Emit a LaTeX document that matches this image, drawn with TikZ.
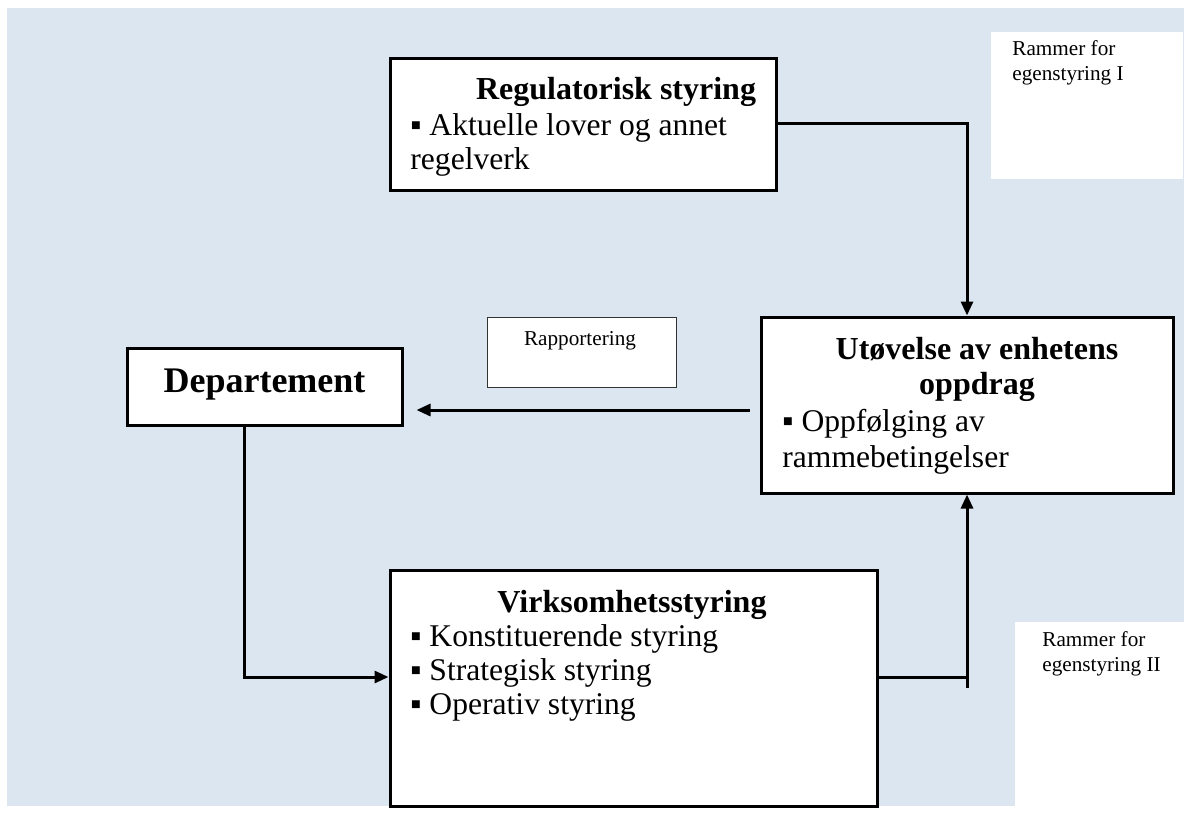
\documentclass[tikz,border=0pt]{standalone}
\usepackage{fontspec}
\setmainfont{Liberation Serif}
\usetikzlibrary{arrows.meta}
\definecolor{bgblue}{HTML}{DCE6F1}
\begin{document}
\begin{tikzpicture}[x=0.5pt,y=-0.5pt,
  box/.style={draw=black, line width=1.5pt, fill=white, rectangle, inner sep=0pt},
  thinbox/.style={draw=black!80, line width=0.5pt, fill=white, rectangle, inner sep=0pt},
  whitebox/.style={fill=white, draw=none, rectangle, inner sep=0pt},
  arr/.style={line width=1.5pt, -{Triangle[length=7pt,width=6pt]}},
  conn/.style={line width=1.5pt},
  ttl/.style={font=\fontsize{16}{19}\selectfont\bfseries, inner sep=0pt, anchor=base},
  body/.style={font=\fontsize{15.8}{19}\selectfont, inner sep=0pt, anchor=base west},
  small/.style={font=\fontsize{10.6}{12}\selectfont, inner sep=0pt, anchor=base west}]
\useasboundingbox (0,0) rectangle (1202,819);
\fill[bgblue] (7,8) rectangle (1184,806);

% white label boxes
\node[whitebox, minimum width=96pt, minimum height=73.5pt] (r1) at (1087,105.5) {};
\node[small] (r1a) at (1012,55) {Rammer for};
\node[small] (r1b) at (1012,80) {egenstyring I};

\node[whitebox, minimum width=84.5pt, minimum height=92pt] (r2) at (1099.5,622) [anchor=north] {};
\node[small] (r2a) at (1042,646) {Rammer for};
\node[small] (r2b) at (1042,671) {egenstyring II};

\node[thinbox, minimum width=94.5pt, minimum height=35pt] (rap) at (581.5,352) {};
\node[small, anchor=base] (rapt) at (580,345) {Rapportering};

% main boxes
\node[box, minimum width=193pt, minimum height=66pt] (reg) at (583,124) {};
\node[ttl] (regt) at (616,99) {Regulatorisk styring};
\node[body] (reg1) at (410,135) {▪ Aktuelle lover og annet};
\node[body] (reg2) at (410,169) {regelverk};

\node[box, minimum width=206pt, minimum height=88pt] (ute) at (967,405) {};
\node[ttl] (utet1) at (977,359) {Utøvelse av enhetens};
\node[ttl] (utet2) at (977,394) {oppdrag};
\node[body] (ute1) at (782,431) {▪ Oppfølging av};
\node[body] (ute2) at (782,467) {rammebetingelser};

\node[box, minimum width=137.5pt, minimum height=38.5pt] (dep) at (264.5,386.5) {};
\node[ttl, font=\fontsize{18}{19}\selectfont\bfseries] (dept) at (264.5,392) {Departement};

\node[box, minimum width=243.5pt, minimum height=118pt] (vir) at (633.5,688) {};
\node[ttl] (virt) at (632,612) {Virksomhetsstyring};
\node[body] (vir1) at (410,646) {▪ Konstituerende styring};
\node[body] (vir2) at (410,680) {▪ Strategisk styring};
\node[body] (vir3) at (410,714) {▪ Operativ styring};

% connectors
\draw[arr] ([yshift=0.5pt]reg.east) -| (ute.north);
\coordinate (rs) at ([xshift=-5pt,yshift=-2.5pt]ute.west);
\draw[arr, shorten >=6.5pt] (rs) -- (rs -| dep.east);
\coordinate (ds) at ([xshift=-10pt]dep.south);
\coordinate (vw) at ([yshift=5.5pt]vir.west);
\draw[arr] (ds) |- (vw);
\coordinate (ve) at ([yshift=5.5pt]vir.east);
\draw[arr] (ve) -| (ute.south);
\coordinate (vb) at ([yshift=-5.5pt]ve -| ute.south);
\draw[conn] (ve -| ute.south) -- (vb);
\end{tikzpicture}
\end{document}
